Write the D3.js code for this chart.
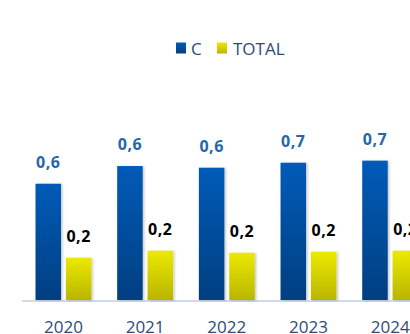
<!DOCTYPE html>
<html>
<head>
<meta charset="utf-8">
<script src="https://cdn.jsdelivr.net/npm/d3@7"></script>
<style>
  html, body { margin: 0; padding: 0; background: #fff; }
  svg { display: block; }
</style>
</head>
<body>
<svg id="chart" width="410" height="334"></svg>
<script>
// Yearly values for the two series
const years = ["2020", "2021", "2022", "2023", "2024"];
const seriesNames = ["C", "TOTAL"];
const valuesC = [0.559, 0.644, 0.636, 0.660, 0.670];
const valuesTotal = [0.203, 0.237, 0.227, 0.232, 0.237];

const svg = d3.select("#chart");
const W = 410, H = 334;
const baseY = 300;

const defs = svg.append("defs");
const gBlue = defs.append("linearGradient").attr("id", "gBlue").attr("x1", 0).attr("y1", 0).attr("x2", 0).attr("y2", 1);
gBlue.append("stop").attr("offset", "0%").attr("stop-color", "#005bb8");
gBlue.append("stop").attr("offset", "100%").attr("stop-color", "#053f80");
const gYel = defs.append("linearGradient").attr("id", "gYel").attr("x1", 0).attr("y1", 0).attr("x2", 0).attr("y2", 1);
gYel.append("stop").attr("offset", "0%").attr("stop-color", "#ece900");
gYel.append("stop").attr("offset", "100%").attr("stop-color", "#b9b500");
const sh = defs.append("filter").attr("id", "shadow").attr("x", "-20%").attr("y", "-5%").attr("width", "150%").attr("height", "115%");
sh.append("feDropShadow").attr("dx", 1.5).attr("dy", 0.5).attr("stdDeviation", 1.2).attr("flood-color", "#000").attr("flood-opacity", 0.22);

const x0 = d3.scaleBand().domain(years).range([22.6, 431]).paddingInner(0).paddingOuter(0);
const x1 = d3.scaleBand().domain(seriesNames).range([12.9, x0.bandwidth() - 12.9]).paddingInner(0.16);
const y = d3.scaleLinear().domain([0, 1]).range([baseY, baseY - 208]);

const fills = { "C": "url(#gBlue)", "TOTAL": "url(#gYel)" };
const labelColors = { "C": "#2566a9", "TOTAL": "#000" };
const fmt = v => d3.format(".1f")(v).replace(".", ",");

const rows = years.map((yr, i) => ({ year: yr, vals: [
  { key: "C", v: valuesC[i] },
  { key: "TOTAL", v: valuesTotal[i] }
]}));

// Axis baseline
svg.append("line")
  .attr("x1", 22).attr("x2", W).attr("y1", baseY + 1).attr("y2", baseY + 1)
  .attr("stroke", "#cfdbea").attr("stroke-width", 2);

const groups = svg.selectAll("g.grp").data(rows).enter().append("g")
  .attr("class", "grp")
  .attr("transform", d => `translate(${x0(d.year)},0)`);

groups.selectAll("rect").data(d => d.vals).enter().append("rect")
  .attr("x", d => x1(d.key))
  .attr("y", d => y(d.v))
  .attr("width", x1.bandwidth())
  .attr("height", d => baseY - y(d.v))
  .attr("fill", d => fills[d.key])
  .attr("filter", "url(#shadow)");

groups.selectAll("text.val").data(d => d.vals).enter().append("text")
  .attr("class", "val")
  .attr("x", d => x1(d.key) + x1.bandwidth() / 2)
  .attr("y", d => y(d.v) - 16)
  .attr("text-anchor", "middle")
  .attr("font-family", "'Open Sans', sans-serif")
  .attr("font-weight", 700)
  .attr("font-size", 16)
  .attr("letter-spacing", 0.5)
  .attr("fill", d => labelColors[d.key])
  .text(d => fmt(d.v));

// Category labels
const xAxis = d3.axisBottom(x0).tickSize(0).tickPadding(0);
const ax = svg.append("g").attr("transform", `translate(0,${baseY + 17})`).call(xAxis);
ax.select(".domain").remove();
ax.selectAll("text")
  .attr("dy", "0.95em")
  .attr("font-family", "'Open Sans', sans-serif")
  .attr("font-size", 17)
  .attr("fill", "#2d4b78");

// Legend
const legend = svg.append("g");
const legendItems = [
  { key: "C", x: 176, tx: 191 },
  { key: "TOTAL", x: 217, tx: 233 }
];
legend.selectAll("rect").data(legendItems).enter().append("rect")
  .attr("x", d => d.x).attr("y", 42.5).attr("width", 10).attr("height", 11)
  .attr("fill", d => fills[d.key]);
legend.selectAll("text").data(legendItems).enter().append("text")
  .attr("x", d => d.tx).attr("y", 54.5)
  .attr("font-family", "'Open Sans', sans-serif")
  .attr("font-size", 17)
  .attr("fill", "#2d4b78")
  .text(d => d.key);
</script>
</body>
</html>
